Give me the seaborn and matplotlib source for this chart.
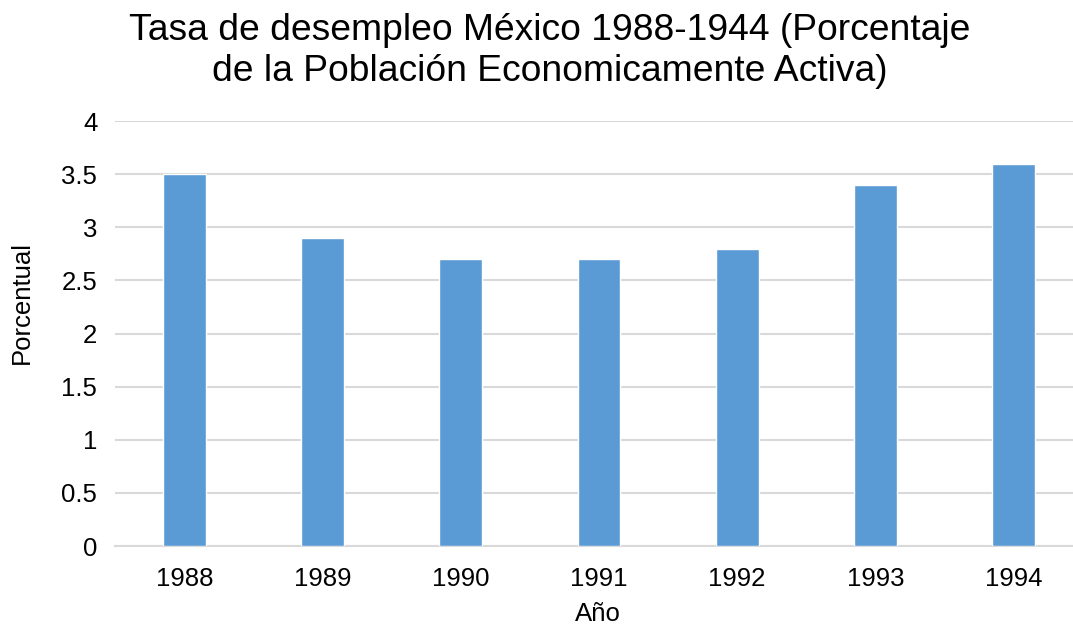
import matplotlib
matplotlib.use("Agg")
import matplotlib.pyplot as plt
import seaborn as sns
import pandas as pd

# Data
years = ["1988", "1989", "1990", "1991", "1992", "1993", "1994"]
rates = [3.5, 2.9, 2.7, 2.7, 2.8, 3.4, 3.6]
y_ticks = [0, 0.5, 1, 1.5, 2, 2.5, 3, 3.5, 4]
y_tick_labels = ["0", "0.5", "1", "1.5", "2", "2.5", "3", "3.5", "4"]

df = pd.DataFrame({"Año": years, "Porcentual": rates})

sns.set_style("white")
plt.rcParams["font.family"] = ["Liberation Sans", "DejaVu Sans"]
plt.rcParams["text.color"] = "black"
plt.rcParams["axes.labelcolor"] = "black"

fig = plt.figure(figsize=(10.73, 6.29), dpi=100)
ax = fig.add_axes([115.4 / 1073, 83 / 629, 967.2 / 1073, 425 / 629])

sns.barplot(data=df, x="Año", y="Porcentual", color="#5b9bd5",
            width=0.31, saturation=1, ax=ax, zorder=3)

ax.set_ylim(0, 4)
ax.set_xlim(-0.5, 6.5)
ax.set_yticks(y_ticks)
ax.set_yticklabels(y_tick_labels)
ax.yaxis.grid(True, color="#d9d9d9", linewidth=1.5, zorder=0)
ax.set_axisbelow(True)
for s in ["top", "right", "left"]:
    ax.spines[s].set_visible(False)
ax.spines["bottom"].set_color("#d9d9d9")
ax.spines["bottom"].set_linewidth(1.5)
ax.tick_params(axis="both", length=0, labelsize=18.5, colors="black")
ax.tick_params(axis="x", pad=15)
ax.tick_params(axis="y", pad=13)

ax.set_xlabel("")
ax.set_ylabel("")
fig.text(22 / 1073, 1 - 302 / 629, "Porcentual", rotation=90,
         ha="center", va="center", fontsize=18.5)
fig.text(598 / 1073, 1 - 614 / 629, "Año", ha="center", va="center",
         fontsize=18.5)

fig.text(550 / 1073, 1 - 51 / 629,
         "Tasa de desempleo México 1988-1944 (Porcentaje\n"
         "de la Población Economicamente Activa)",
         ha="center", va="center", fontsize=26.8, linespacing=1.2)

fig.savefig("out.png", dpi=100)
